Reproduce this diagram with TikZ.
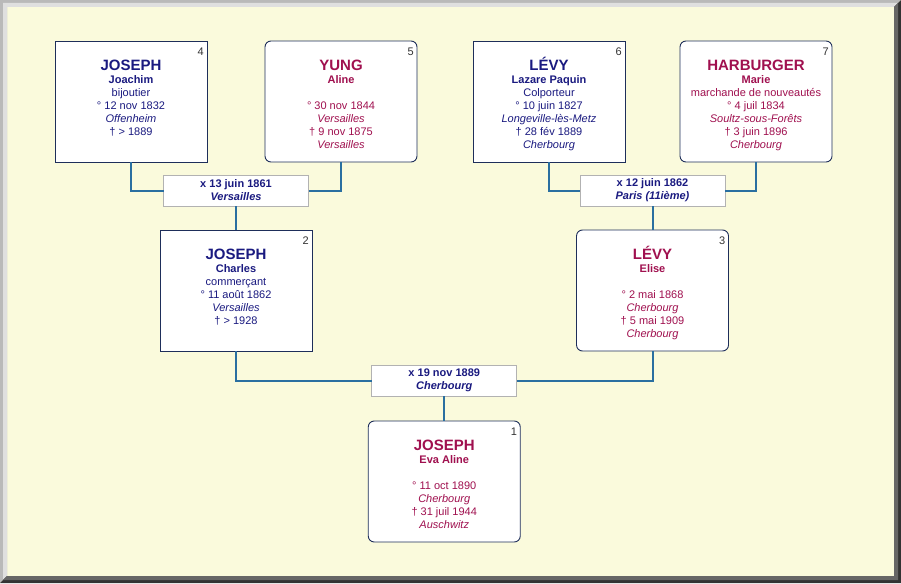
\documentclass[tikz,border=0pt]{standalone}
\usepackage{fontspec}
\setmainfont{Liberation Sans}
\usepackage{xcolor}
\usepackage{tikz}
\usetikzlibrary{positioning,calc}
\definecolor{hgrund}{HTML}{FAFADC}
\definecolor{mann}{HTML}{1A1A80}
\definecolor{frau}{HTML}{A0104F}
\definecolor{linie}{HTML}{2A6FA0}
\definecolor{rahmen}{HTML}{1E2E5A}
\tikzstyle{person} = [draw=rahmen, fill=white, line width=0.9pt, minimum width=152pt, minimum height=121pt, inner sep=0pt, outer sep=0pt]
\tikzstyle{frauBox} = [person, rounded corners=6pt]
\tikzstyle{heirat} = [draw=gray!60, fill=white, line width=0.9pt, minimum width=145pt, minimum height=31pt, inner sep=0pt, outer sep=0pt, align=center, text=mann, font=\fontsize{11}{13}\selectfont\bfseries]
\tikzstyle{daten} = [inner sep=0pt, align=center, font=\fontsize{11}{13}\selectfont]
\tikzstyle{nummer} = [inner sep=0pt, text=black!80, font=\fontsize{11}{13}\selectfont]
\tikzstyle{verbindung} = [draw=linie, line width=2pt]
\newcommand{\nachname}[1]{\rule{0pt}{15pt}{\fontsize{15}{15}\selectfont\bfseries #1}}

\begin{document}
\begin{tikzpicture}
		% Hintergrund und Rahmen
		\useasboundingbox (0,0) rectangle (901pt,-583pt);
		\fill[hgrund] (0,0) rectangle (901pt,-583pt);
		\fill[gray!55] (0,0) -- (901pt,0) -- (894pt,-7pt) -- (7pt,-7pt) -- (7pt,-576pt) -- (0,-583pt) -- cycle;
		\fill[gray!25] (3pt,-3pt) -- (898pt,-3pt) -- (894pt,-7pt) -- (7pt,-7pt) -- (7pt,-576pt) -- (3pt,-580pt) -- cycle;
		\fill[black!80] (901pt,-583pt) -- (0,-583pt) -- (7pt,-576pt) -- (894pt,-576pt) -- (894pt,-7pt) -- (901pt,0) -- cycle;
		\fill[black!60] (898pt,-580pt) -- (3pt,-580pt) -- (7pt,-576pt) -- (894pt,-576pt) -- (894pt,-7pt) -- (898pt,-3pt) -- cycle;
		
		% Grosseltern
		\node[person] (p4) at (131pt,-101.5pt) {};							% Joseph Joachim
		\node[frauBox, right=58pt of p4] (p5) {};						% Yung Aline
		\node[person, right=56pt of p5] (p6) {};						% Levy Lazare
		\node[frauBox, right=55pt of p6] (p7) {};						% Harburger Marie
		
		% Heiraten der Grosseltern
		\coordinate (h1) at ($(p4.south)!0.5!(p5.south)$);
		\coordinate (h2) at ($(p6.south)!0.5!(p7.south)$);
		\node[heirat, below=13pt of h1] (m1) {x 13 juin 1861\\ \textit{Versailles}};
		\node[heirat, below=13pt of h2] (m2) {x 12 juin 1862\\ \textit{Paris (11ième)}};
		
		% Eltern
		\node[person, below=24pt of m1] (p2) {};						% Joseph Charles
		\node[frauBox, below=24pt of m2] (p3) {};						% Levy Elise
		\coordinate (h3) at ($(p2.south)!0.5!(p3.south)$);
		\node[heirat, below=14pt of h3] (m3) {x 19 nov 1889\\ \textit{Cherbourg}};
		
		% Kind
		\node[frauBox, below=25pt of m3] (p1) {};						% Joseph Eva Aline
		
		% Texte in den Kaesten
		\node[daten, text=mann, below=14.4pt of p4.north] (t4) {\nachname{JOSEPH}\\ \textbf{Joachim}\\ bijoutier\\ ° 12 nov 1832\\ \textit{Offenheim}\\ † > 1889};
		\node[daten, text=frau, below=14.4pt of p5.north] (t5) {\nachname{YUNG}\\ \textbf{Aline}\\[13pt] ° 30 nov 1844\\ \textit{Versailles}\\ † 9 nov 1875\\ \textit{Versailles}};
		\node[daten, text=mann, below=14.4pt of p6.north] (t6) {\nachname{LÉVY}\\ \textbf{Lazare Paquin}\\ Colporteur\\ ° 10 juin 1827\\ \textit{Longeville-lès-Metz}\\ † 28 fév 1889\\ \textit{Cherbourg}};
		\node[daten, text=frau, below=14.4pt of p7.north] (t7) {\nachname{HARBURGER}\\ \textbf{Marie}\\ marchande de nouveautés\\ ° 4 juil 1834\\ \textit{Soultz-sous-Forêts}\\ † 3 juin 1896\\ \textit{Cherbourg}};
		\node[daten, text=mann, below=14.4pt of p2.north] (t2) {\nachname{JOSEPH}\\ \textbf{Charles}\\ commerçant\\ ° 11 août 1862\\ \textit{Versailles}\\ † > 1928};
		\node[daten, text=frau, below=14.4pt of p3.north] (t3) {\nachname{LÉVY}\\ \textbf{Elise}\\[13pt] ° 2 mai 1868\\ \textit{Cherbourg}\\ † 5 mai 1909\\ \textit{Cherbourg}};
		\node[daten, text=frau, below=14.4pt of p1.north] (t1) {\nachname{JOSEPH}\\ \textbf{Eva Aline}\\[13pt] ° 11 oct 1890\\ \textit{Cherbourg}\\ † 31 juil 1944\\ \textit{Auschwitz}};
		
		% Nummern oben rechts
		\node[nummer, below left=7pt and 3pt of p4.north east] (n4) {4};
		\node[nummer, below left=7pt and 3pt of p5.north east] (n5) {5};
		\node[nummer, below left=7pt and 3pt of p6.north east] (n6) {6};
		\node[nummer, below left=7pt and 3pt of p7.north east] (n7) {7};
		\node[nummer, below left=7pt and 3pt of p2.north east] (n2) {2};
		\node[nummer, below left=7pt and 3pt of p3.north east] (n3) {3};
		\node[nummer, below left=7pt and 3pt of p1.north east] (n1) {1};
		
		% Verbindungen
		\draw[verbindung] (p4) |- (m1);
		\draw[verbindung] (p5) |- (m1);
		\draw[verbindung] (m1) -- (p2);
		\draw[verbindung] (p6) |- (m2);
		\draw[verbindung] (p7) |- (m2);
		\draw[verbindung] (m2) -- (p3);
		\draw[verbindung] (p2) |- (m3);
		\draw[verbindung] (p3) |- (m3);
		\draw[verbindung] (m3) -- (p1);
\end{tikzpicture}
\end{document}
